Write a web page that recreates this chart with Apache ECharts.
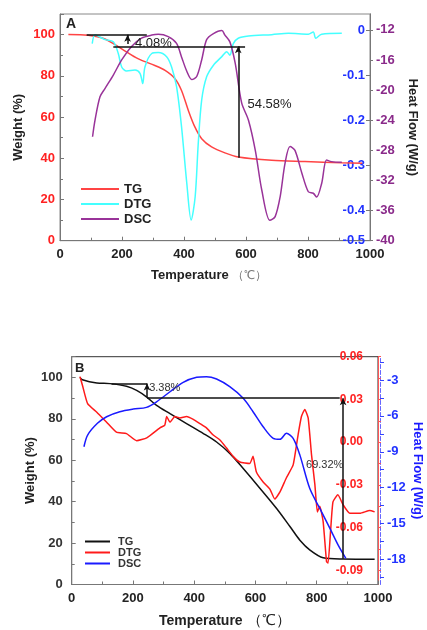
<!DOCTYPE html>
<html>
<head>
<meta charset="utf-8">
<script src="https://cdn.jsdelivr.net/npm/echarts@6/dist/echarts.min.js"></script>
<style>
  html, body { margin: 0; padding: 0; background: #fff; }
  .panel { width: 427px; height: 315px; }
</style>
</head>
<body>
<div id="chartA" class="panel"></div>
<div id="chartB" class="panel"></div>
<script>
// ---- panel A data ----
var tgA_T = [27, 91, 145, 199, 253, 306, 339, 371, 392, 414, 435, 457, 489, 532, 575, 683, 790, 909, 975]
var tgA_W = [100, 99.7, 97.9, 93.1, 88.2, 85, 82.6, 78.6, 72.9, 63.2, 55.2, 49.5, 45.5, 42.6, 40.6, 39.0, 38.4, 37.8, 37.6]

var dtgA_T = [104, 113, 145, 172, 188, 199, 215, 242, 258, 267, 274, 296, 317, 344, 360, 376, 392, 409, 423, 436, 446, 457, 473, 495, 522, 538, 548, 559, 575, 608, 683, 737, 801, 817, 825, 844, 909]
var dtgA_V = [-0.029, -0.010, -0.020, -0.025, -0.051, -0.081, -0.090, -0.088, -0.095, -0.118, -0.081, -0.051, -0.049, -0.058, -0.081, -0.125, -0.214, -0.340, -0.422, -0.370, -0.251, -0.155, -0.103, -0.077, -0.058, -0.047, -0.055, -0.029, -0.017, -0.012, -0.009, -0.006, -0.008, -0.003, -0.017, -0.008, -0.006]

var dscA_T = [105, 113, 129, 145, 172, 199, 231, 263, 296, 317, 349, 376, 392, 409, 425, 441, 457, 473, 495, 522, 532, 548, 565, 586, 608, 630, 651, 677, 694, 710, 726, 742, 758, 780, 801, 817, 828, 844, 860, 876, 909]
var dscA_V = [-26.2, -24.0, -20.9, -19.8, -18.0, -16.0, -14.2, -13.1, -12.7, -12.6, -12.9, -13.8, -15.6, -17.5, -18.6, -18.2, -16.0, -13.3, -12.5, -12.1, -12.7, -13.6, -16.4, -21.7, -24.0, -28.0, -33.3, -37.3, -36.8, -34.2, -29.7, -27.5, -28.0, -31.0, -33.5, -33.7, -34.2, -32.4, -29.3, -29.5, -29.6]

var dtgA_labels = [-0.468, -0.4, -0.3, -0.2, -0.1, 0]
var annoA_lines = [
  [[86, 100], [280, 100]],
  [[172, 94.3], [597, 94.3]]
]
var annoA_arrows = [
  [[218, 95.5], [218, 99.9]],
  [[575, 40.2], [575, 94.3]]
]
var annoA_text = [['4.08%', 242, 95.5], ['54.58%', 605, 66.1]]

// ---- panel B data ----
var tgB_T = [27, 35, 82, 125, 179, 212, 245, 277, 321, 375, 430, 473, 517, 560, 615, 669, 713, 745, 778, 821, 886, 989]
var tgB_W = [100, 98.9, 97.3, 97, 95.7, 93.7, 90.5, 86.5, 82.5, 77.7, 72.9, 68.8, 63.2, 56, 46.4, 36.7, 27.9, 21.4, 16.6, 12.9, 12.3, 12.2]

var dtgB_T = [27, 35, 52, 82, 114, 146, 179, 212, 245, 288, 304, 310, 321, 337, 353, 375, 397, 419, 440, 462, 484, 505, 527, 549, 581, 592, 603, 625, 647, 663, 680, 701, 723, 739, 750, 761, 772, 783, 794, 802, 810, 821, 832, 837, 845, 853, 869, 886, 908, 941, 973, 989]
var dtgB_V = [0.046, 0.040, 0.027, 0.021, 0.014, 0.007, 0.006, 0.001, 0.003, 0.010, 0.012, 0.018, 0.014, 0.018, 0.017, 0.018, 0.016, 0.013, 0.010, 0.005, 0.0015, -0.004, -0.010, -0.014, -0.015, -0.010, -0.021, -0.028, -0.033, -0.040, -0.035, -0.025, -0.016, 0.005, 0.018, 0.023, 0.017, -0.009, -0.030, -0.049, -0.045, -0.056, -0.084, -0.085, -0.063, -0.042, -0.037, -0.044, -0.050, -0.050, -0.048, -0.049]

var dscB_T = [40, 52, 84, 114, 157, 201, 244, 277, 321, 364, 408, 440, 473, 516, 560, 592, 625, 658, 680, 701, 723, 745, 777, 810, 843, 870, 895]
var dscB_V = [-8.58, -7.60, -6.62, -6.07, -5.65, -5.43, -5.29, -4.82, -3.98, -3.19, -2.77, -2.72, -2.92, -3.56, -4.53, -5.65, -6.91, -7.88, -7.96, -7.46, -7.88, -9.28, -12.06, -13.74, -15.41, -16.81, -17.92]

var dtgB_labels = [-0.09, -0.06, -0.03, 0, 0.03, 0.06]
var dtgB_ticks = [-0.09, -0.075, -0.06, -0.045, -0.03, -0.015, 0, 0.015, 0.03, 0.045, 0.06]
var dscB_labels = [-18, -15, -12, -9, -6, -3]
var dscB_ticks = [-19.5, -18, -16.5, -15, -13.5, -12, -10.5, -9, -7.5, -6, -4.5, -3, -1.5]
var annoB_lines = [
  [[130, 97], [246, 97]],
  [[246, 90.2], [875, 90.2]]
]
var annoB_arrows = [
  [[246, 90.5], [246, 97]],
  [[886, 12.4], [886, 89.9]]
]
var annoB_text = [['3.38%', 253, 94.7], ['69.32%', 765, 57.6]]

var FONT = 'Liberation Sans, Arial, sans-serif'

function pairs (xs, ys) {
  return xs.map(function (x, i) { return [x, ys[i]] })
}

function plainNum (v) {
  return String(v)
}

function lineData (lines, arrows, color) {
  var out = []
  lines.forEach(function (l) {
    out.push([{ coord: l[0], symbol: 'none' }, { coord: l[1], symbol: 'none' }])
  })
  arrows.forEach(function (l) {
    out.push([{ coord: l[0], symbol: 'none' }, { coord: l[1], symbol: 'arrow', symbolSize: [5, 7] }])
  })
  return {
    silent: true,
    animation: false,
    lineStyle: { color: color, width: 1.5, type: 'solid' },
    label: { show: false },
    data: out
  }
}

function textData (texts, size, color) {
  return {
    silent: true,
    animation: false,
    symbol: 'circle',
    symbolSize: 0,
    label: {
      show: true,
      position: 'right',
      distance: 0,
      formatter: '{b}',
      fontFamily: FONT,
      fontSize: size,
      color: color
    },
    data: texts.map(function (t) { return { name: t[0], coord: [t[1], t[2]] } })
  }
}

// ================= panel A =================
var chartA = echarts.init(document.getElementById('chartA'))
chartA.setOption({
  animation: false,
  textStyle: { fontFamily: FONT },
  grid: {
    left: 60, right: 57, top: 14, height: 226.7, outerBoundsMode: 'none',
    show: true, borderColor: '#888', borderWidth: 1
  },
  legend: {
    orient: 'vertical', left: 76, top: 177,
    icon: 'rect', itemWidth: 38, itemHeight: 2, itemGap: 1,
    textStyle: { fontFamily: FONT, fontSize: 13, fontWeight: 'bold', color: '#222', lineHeight: 14 },
    data: ['TG', 'DTG', 'DSC']
  },
  graphic: [
    { type: 'text', left: 66, top: 17, style: { text: 'A', font: 'bold 14px ' + FONT, fill: '#222' } }
  ],
  xAxis: {
    type: 'value', min: 0, max: 1000, interval: 200,
    axisLine: { lineStyle: { color: '#777' } },
    axisTick: { inside: true, length: 4, lineStyle: { color: '#777' } },
    minorTick: { show: true, splitNumber: 2, length: 3, lineStyle: { color: '#777' } },
    splitLine: { show: false },
    axisLabel: { fontSize: 13, fontWeight: 'bold', color: '#222', margin: 7, formatter: plainNum },
    name: '{a|Temperature}{b| （℃）}',
    nameLocation: 'middle', nameGap: 28,
    nameTextStyle: {
      padding: [0, 12, 0, 0],
      rich: {
        a: { fontFamily: FONT, fontSize: 13, fontWeight: 'bold', color: '#222' },
        b: { fontFamily: FONT, fontSize: 12, color: '#777' }
      }
    }
  },
  yAxis: [
    {
      type: 'value', position: 'left', min: 0, max: 110, interval: 20,
      axisLine: { show: true, lineStyle: { color: '#777' } },
      axisTick: { show: true, inside: true, length: 4, lineStyle: { color: '#777' } },
      minorTick: { show: true, splitNumber: 2, length: 3, lineStyle: { color: '#777' } },
      splitLine: { show: false },
      axisLabel: { fontSize: 13, fontWeight: 'bold', color: '#ff2222', margin: 5, showMaxLabel: false },
      name: 'Weight (%)', nameLocation: 'middle', nameGap: 35, nameMoveOverlap: false,
      nameTextStyle: { fontFamily: FONT, fontSize: 13, fontWeight: 'bold', color: '#222' }
    },
    {
      type: 'value', position: 'right', min: -0.468, max: 0.037,
      axisLine: { show: true, lineStyle: { color: '#777' } },
      axisTick: { show: true, inside: true, length: 4, customValues: dtgA_labels, lineStyle: { color: '#777' } },
      splitLine: { show: false },
      axisLabel: {
        inside: true, margin: 5, fontSize: 13, fontWeight: 'bold', color: '#2233ff',
        customValues: dtgA_labels,
        formatter: function (v) { return v < -0.45 ? '-0.5' : (v === 0 ? '0' : v.toFixed(1)) }
      }
    },
    {
      type: 'value', position: 'right', min: -40, max: -9.9, interval: 4,
      axisLine: { show: true, lineStyle: { color: '#777' } },
      axisTick: { show: true, length: 3, lineStyle: { color: '#777' } },
      splitLine: { show: false },
      axisLabel: { fontSize: 13, fontWeight: 'bold', color: '#8a2a8a', margin: 6, showMaxLabel: false },
      name: 'Heat Flow (W/g)', nameLocation: 'middle', nameGap: 36, nameRotate: -90, nameMoveOverlap: false,
      nameTextStyle: { fontFamily: FONT, fontSize: 13, fontWeight: 'bold', color: '#222' }
    }
  ],
  series: [
    {
      name: 'TG', type: 'line', yAxisIndex: 0, showSymbol: false, smooth: 0.3,
      lineStyle: { width: 1.5, color: '#ff4444' }, itemStyle: { color: '#ff4444' },
      data: pairs(tgA_T, tgA_W),
      markLine: lineData(annoA_lines, annoA_arrows, '#111'),
      markPoint: textData(annoA_text, 13, '#222'),
      z: 3
    },
    {
      name: 'DTG', type: 'line', yAxisIndex: 1, showSymbol: false, smooth: 0.3,
      lineStyle: { width: 1.5, color: '#44ffff' }, itemStyle: { color: '#44ffff' },
      data: pairs(dtgA_T, dtgA_V)
    },
    {
      name: 'DSC', type: 'line', yAxisIndex: 2, showSymbol: false, smooth: 0.3,
      lineStyle: { width: 1.5, color: '#993399' }, itemStyle: { color: '#993399' },
      data: pairs(dscA_T, dscA_V)
    }
  ]
})

// ================= panel B =================
var chartB = echarts.init(document.getElementById('chartB'))
chartB.setOption({
  animation: false,
  textStyle: { fontFamily: FONT },
  grid: {
    left: 71.7, right: 49, top: 41.7, height: 227.8, outerBoundsMode: 'none',
    show: true, borderColor: '#333', borderWidth: 1
  },
  legend: {
    orient: 'vertical', left: 80, top: 216,
    icon: 'rect', itemWidth: 25, itemHeight: 2, itemGap: 0,
    textStyle: { fontFamily: FONT, fontSize: 11, fontWeight: 'bold', color: '#333', lineHeight: 11, padding: [0, 0, 0, 3] },
    data: ['TG', 'DTG', 'DSC']
  },
  graphic: [
    { type: 'text', left: 75, top: 47, style: { text: 'B', font: 'bold 13px ' + FONT, fill: '#222' } }
  ],
  xAxis: {
    type: 'value', min: 0, max: 1000, interval: 200,
    axisLine: { lineStyle: { color: '#777' } },
    axisTick: { inside: true, length: 4, lineStyle: { color: '#777' } },
    minorTick: { show: true, splitNumber: 2, length: 3, lineStyle: { color: '#777' } },
    splitLine: { show: false },
    axisLabel: { fontSize: 13, fontWeight: 'bold', color: '#222', margin: 7, formatter: plainNum },
    name: '{a|Temperature}{b| （℃）}',
    nameLocation: 'middle', nameGap: 29,
    nameTextStyle: {
      rich: {
        a: { fontFamily: FONT, fontSize: 14, fontWeight: 'bold', color: '#222' },
        b: { fontFamily: FONT, fontSize: 15, color: '#222' }
      }
    }
  },
  yAxis: [
    {
      type: 'value', position: 'left', min: 0, max: 110, interval: 20,
      axisLine: { show: true, lineStyle: { color: '#777' } },
      axisTick: { show: true, inside: true, length: 4, lineStyle: { color: '#777' } },
      minorTick: { show: true, splitNumber: 2, length: 3, lineStyle: { color: '#777' } },
      splitLine: { show: false },
      axisLabel: { fontSize: 13, fontWeight: 'bold', color: '#333', margin: 9, showMaxLabel: false },
      name: 'Weight (%)', nameLocation: 'middle', nameGap: 35, nameMoveOverlap: false,
      nameTextStyle: { fontFamily: FONT, fontSize: 13, fontWeight: 'bold', color: '#222' }
    },
    {
      type: 'value', position: 'right', min: -0.1, max: 0.06,
      axisLine: { show: true, lineStyle: { color: '#ff5555' } },
      axisTick: { show: true, length: 3, customValues: dtgB_ticks, lineStyle: { color: '#ff5555' } },
      splitLine: { show: false },
      axisLabel: {
        inside: true, margin: 15, fontSize: 12, fontWeight: 'bold', color: '#ff2222',
        customValues: dtgB_labels,
        formatter: function (v) { return v.toFixed(2) }
      }
    },
    {
      type: 'value', position: 'right', offset: 2, min: -20.1, max: -1.05,
      axisLine: { show: true, lineStyle: { color: '#6666ff', type: 'dashed' } },
      axisTick: { show: true, length: 4, customValues: dscB_ticks, lineStyle: { color: '#3344ff' } },
      splitLine: { show: false },
      axisLabel: {
        fontSize: 13, fontWeight: 'bold', color: '#2233ff', margin: 7,
        customValues: dscB_labels
      },
      name: 'Heat Flow (W/g)', nameLocation: 'middle', nameGap: 31, nameRotate: -90, nameMoveOverlap: false,
      nameTextStyle: { fontFamily: FONT, fontSize: 13, fontWeight: 'bold', color: '#1a1aff' }
    }
  ],
  series: [
    {
      name: 'TG', type: 'line', yAxisIndex: 0, showSymbol: false, smooth: 0.3,
      lineStyle: { width: 1.5, color: '#111' }, itemStyle: { color: '#111' },
      data: pairs(tgB_T, tgB_W),
      markLine: lineData(annoB_lines, annoB_arrows, '#111'),
      markPoint: textData(annoB_text, 11, '#333'),
      z: 3
    },
    {
      name: 'DTG', type: 'line', yAxisIndex: 1, showSymbol: false, smooth: 0.15,
      lineStyle: { width: 1.5, color: '#ff1a1a' }, itemStyle: { color: '#ff1a1a' },
      data: pairs(dtgB_T, dtgB_V)
    },
    {
      name: 'DSC', type: 'line', yAxisIndex: 2, showSymbol: false, smooth: 0.3,
      lineStyle: { width: 1.5, color: '#1a1aff' }, itemStyle: { color: '#1a1aff' },
      data: pairs(dscB_T, dscB_V)
    }
  ]
})
</script>
</body>
</html>
